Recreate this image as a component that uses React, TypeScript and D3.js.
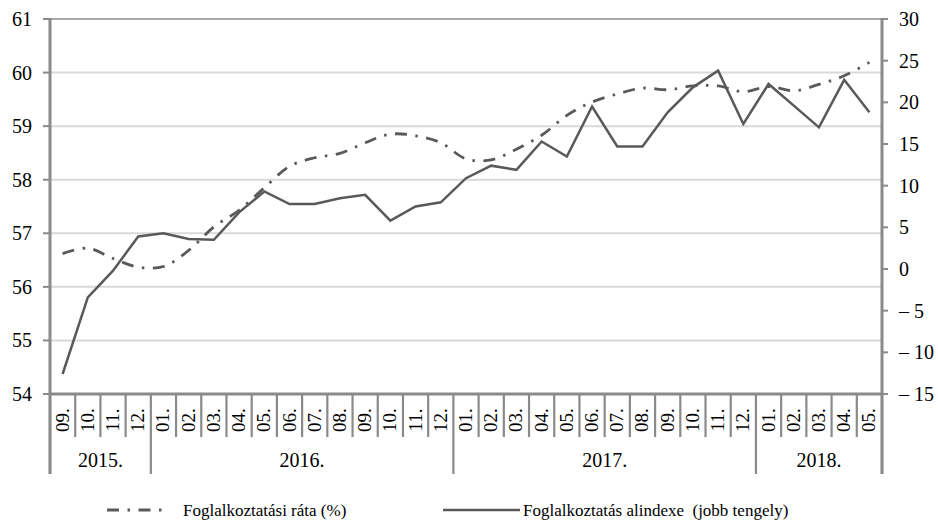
import React, { useRef, useEffect } from "react";
import * as d3 from "d3";

const months = [
  "09.", "10.", "11.", "12.",
  "01.", "02.", "03.", "04.", "05.", "06.", "07.", "08.", "09.", "10.", "11.", "12.",
  "01.", "02.", "03.", "04.", "05.", "06.", "07.", "08.", "09.", "10.", "11.", "12.",
  "01.", "02.", "03.", "04.", "05.",
];
const yearLabels = ["2015.", "2016.", "2017.", "2018."];
const yearCounts = [4, 12, 12, 5];

// Foglalkoztatási ráta (%) - left axis
const rate = [
  56.62, 56.72, 56.53, 56.37, 56.38, 56.68, 57.12, 57.43, 57.85, 58.25, 58.41,
  58.49, 58.69, 58.85, 58.82, 58.69, 58.39, 58.37, 58.57, 58.83, 59.2, 59.45,
  59.6, 59.71, 59.68, 59.75, 59.75, 59.64, 59.74, 59.66, 59.78, 59.94, 60.19,
];
// Foglalkoztatás alindexe - right axis
const subIndex = [
  -12.6, -3.4, -0.2, 3.9, 4.3, 3.6, 3.5, 6.8, 9.3, 7.8, 7.8, 8.5, 8.9, 5.8, 7.5,
  8.0, 10.9, 12.4, 11.9, 15.3, 13.5, 19.5, 14.7, 14.7, 18.8, 21.8, 23.8, 17.4,
  22.2, 19.6, 17.0, 22.7, 18.8,
];

const leftTicks = [54, 55, 56, 57, 58, 59, 60, 61];
const rightTicks = [-15, -10, -5, 0, 5, 10, 15, 20, 25, 30];

const width = 938;
const height = 520;
const left = 50;
const right = 882;
const top = 19;
const bottom = 394;

const axisColor = "#8a8a8a";
const lineColor = "#595959";
const font = "Liberation Serif, Times New Roman, DejaVu Serif, serif";

const App: React.FC = () => {
  const ref = useRef<SVGSVGElement>(null);

  useEffect(() => {
    if (!ref.current) return;
    const svg = d3.select(ref.current);
    svg.selectAll("*").remove();

    const idx = months.map((_, i) => String(i));
    const x = d3.scaleBand().domain(idx).range([left, right]);
    const yL = d3.scaleLinear().domain([54, 61]).range([bottom, top]);
    const yR = d3.scaleLinear().domain([-15, 30]).range([bottom, top]);
    const cx = (i: number) => (x(String(i)) as number) + x.bandwidth() / 2;

    // gridlines
    svg
      .append("g")
      .selectAll("line")
      .data(leftTicks.filter((d) => d > 54 && d < 61))
      .enter()
      .append("line")
      .attr("x1", left)
      .attr("x2", right)
      .attr("y1", (d) => yL(d))
      .attr("y2", (d) => yL(d))
      .attr("stroke", "#d9d9d9")
      .attr("stroke-width", 2);

    // top border
    svg
      .append("line")
      .attr("x1", left)
      .attr("x2", right)
      .attr("y1", yL(61))
      .attr("y2", yL(61))
      .attr("stroke", "#8c8c8c")
      .attr("stroke-width", 1.5);

    // category separators
    const bounds = d3.range(months.length + 1);
    const yearBounds: number[] = [0];
    yearCounts.forEach((c, i) => yearBounds.push(yearBounds[i] + c));
    const bx = (k: number) => left + k * x.step();
    svg
      .append("g")
      .selectAll("line")
      .data(bounds)
      .enter()
      .append("line")
      .attr("x1", (k) => bx(k))
      .attr("x2", (k) => bx(k))
      .attr("y1", bottom)
      .attr("y2", (k) => (yearBounds.includes(k) ? 474 : 437))
      .attr("stroke", axisColor)
      .attr("stroke-width", 2.2);

    // month labels
    svg
      .append("g")
      .selectAll("text")
      .data(months)
      .enter()
      .append("text")
      .attr("transform", (_, i) => `translate(${cx(i) + 6},420) rotate(-90)`)
      .attr("text-anchor", "middle")
      .style("font-family", font)
      .style("font-size", "19px")
      .text((d) => d);

    // year labels
    svg
      .append("g")
      .selectAll("text")
      .data(yearLabels)
      .enter()
      .append("text")
      .attr("x", (_, i) => (bx(yearBounds[i]) + bx(yearBounds[i + 1])) / 2)
      .attr("y", 467)
      .attr("text-anchor", "middle")
      .style("font-family", font)
      .style("font-size", "20px")
      .text((d) => d);

    // left axis
    const gl = svg.append("g");
    gl.selectAll("line")
      .data(leftTicks)
      .enter()
      .append("line")
      .attr("x1", left - 7)
      .attr("x2", left)
      .attr("y1", (d) => yL(d))
      .attr("y2", (d) => yL(d))
      .attr("stroke", axisColor)
      .attr("stroke-width", 2);
    gl.selectAll("text")
      .data(leftTicks)
      .enter()
      .append("text")
      .attr("x", 32)
      .attr("y", (d) => yL(d) + 7)
      .attr("text-anchor", "end")
      .style("font-family", font)
      .style("font-size", "20px")
      .text((d) => d);

    // right axis
    const gr = svg.append("g");
    gr.selectAll("line")
      .data(rightTicks)
      .enter()
      .append("line")
      .attr("x1", right)
      .attr("x2", right + 6)
      .attr("y1", (d) => yR(d))
      .attr("y2", (d) => yR(d))
      .attr("stroke", axisColor)
      .attr("stroke-width", 2);
    gr.selectAll("text")
      .data(rightTicks)
      .enter()
      .append("text")
      .attr("x", 899)
      .attr("y", (d) => yR(d) + 7)
      .style("font-family", font)
      .style("font-size", "20px")
      .text((d) => (d < 0 ? `– ${Math.abs(d)}` : String(d)));

    // axis lines
    svg
      .append("line")
      .attr("x1", left)
      .attr("x2", left)
      .attr("y1", top - 1)
      .attr("y2", 474)
      .attr("stroke", axisColor)
      .attr("stroke-width", 3);
    svg
      .append("line")
      .attr("x1", right)
      .attr("x2", right)
      .attr("y1", top - 1)
      .attr("y2", 474)
      .attr("stroke", axisColor)
      .attr("stroke-width", 3);
    svg
      .append("line")
      .attr("x1", left)
      .attr("x2", right)
      .attr("y1", bottom)
      .attr("y2", bottom)
      .attr("stroke", axisColor)
      .attr("stroke-width", 3);

    // series
    const rateLine = d3
      .line<number>()
      .x((_, i) => cx(i))
      .y((d) => yL(d))
      .curve(d3.curveCatmullRom.alpha(0.5));
    const indexLine = d3
      .line<number>()
      .x((_, i) => cx(i))
      .y((d) => yR(d));

    svg
      .append("path")
      .datum(subIndex)
      .attr("d", indexLine)
      .attr("fill", "none")
      .attr("stroke", lineColor)
      .attr("stroke-width", 2.5)
      .attr("stroke-linejoin", "miter");

    svg
      .append("path")
      .datum(rate)
      .attr("d", rateLine)
      .attr("fill", "none")
      .attr("stroke", lineColor)
      .attr("stroke-width", 2.8)
      .attr("stroke-dasharray", "12,8.5,2.5,8.5");

    // legend
    const lg = svg.append("g").style("font-family", font).style("font-size", "17px");
    lg.append("line")
      .attr("x1", 107)
      .attr("x2", 166)
      .attr("y1", 510)
      .attr("y2", 510)
      .attr("stroke", lineColor)
      .attr("stroke-width", 2.8)
      .attr("stroke-dasharray", "12,8.5,2.5,8.5");
    lg.append("text").attr("x", 183).attr("y", 516).text("Foglalkoztatási ráta (%)");
    lg.append("line")
      .attr("x1", 443)
      .attr("x2", 520)
      .attr("y1", 510)
      .attr("y2", 510)
      .attr("stroke", lineColor)
      .attr("stroke-width", 2.5);
    lg.append("text")
      .attr("x", 523)
      .attr("y", 516)
      .style("white-space", "pre")
      .text("Foglalkoztatás alindexe  (jobb tengely)");
  }, []);

  return (
    <svg
      ref={ref}
      width={width}
      height={height}
      style={{ position: "absolute", left: 0, top: 0, background: "#fff" }}
    />
  );
};

export default App;
